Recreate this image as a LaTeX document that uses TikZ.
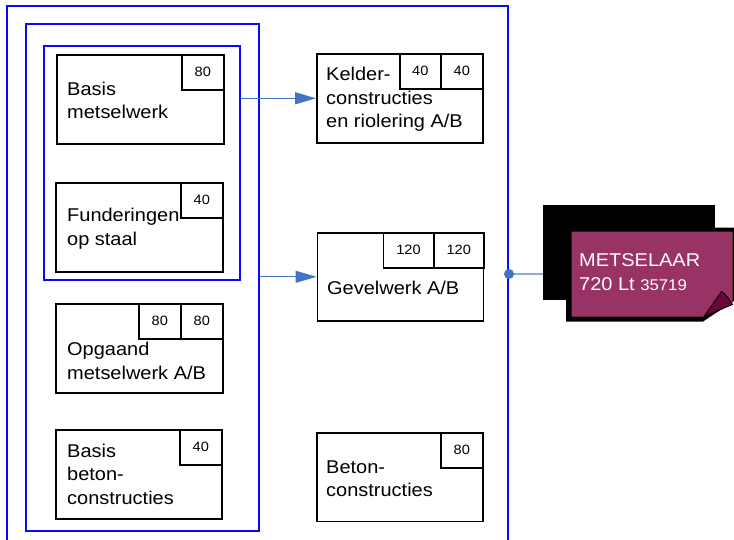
\documentclass[tikz,border=0pt]{standalone}
\usepackage{fontspec}
\setmainfont{Liberation Sans}[FakeStretch=1.08]
\usetikzlibrary{arrows.meta}
\definecolor{frameblue}{RGB}{10,10,250}
\definecolor{connblue}{RGB}{68,114,196}
\definecolor{lightconn}{RGB}{140,170,220}
\definecolor{cardfill}{RGB}{153,51,102}
\definecolor{foldfill}{RGB}{105,8,55}
\begin{document}
\begin{tikzpicture}[x=1pt,y=-1pt,
  frame/.style={draw=frameblue,line width=2pt,anchor=north west,inner sep=0pt},
  taskbox/.style={draw=black,line width=1.6pt,fill=white,anchor=north west,inner sep=0pt,minimum width=167pt,minimum height=89pt},
  numcell/.style={draw=black,line width=1.6pt,anchor=north west,inner sep=0pt,minimum height=35pt,font=\fontsize{13.5}{15}\selectfont},
  label/.style={anchor=west,align=left,inner sep=0pt,font=\fontsize{18.5}{23.5}\selectfont},
  conn/.style={draw=connblue,line width=1pt,-{Triangle[length=21pt,width=12pt]}}
]
\useasboundingbox (0,0) rectangle (734,539);
% frames
\node[frame,minimum width=501pt,minimum height=545pt] (outer) at (6,5) {};
\node[frame,minimum width=233pt,minimum height=507pt] (mid) at (25,22.5) {};
\node[frame,minimum width=196.5pt,minimum height=234.5pt] (inner) at (42.5,44.5) {};
% left column
\node[taskbox] (bm) at (56,54) {};
\node[numcell,minimum width=42pt] (bmn) at (181,54) {80};
\node[label] (bmt) at (67,100.5) {Basis\\metselwerk};

\node[taskbox] (fs) at (55,182) {};
\node[numcell,minimum width=42pt] (fsn) at (180,182) {40};
\node[label] (fst) at (67,228.5) {Funderingen\\op staal};

\node[taskbox] (om) at (55,303) {};
\node[numcell,minimum width=42pt] (omn1) at (138,303) {80};
\node[numcell,minimum width=42pt] (omn2) at (180,303) {80};
\node[label] (omt) at (67,361) {Opgaand\\metselwerk A/B};

\node[taskbox,minimum width=166pt] (bb) at (55,429) {};
\node[numcell,minimum width=42pt] (bbn) at (179,429) {40};
\node[label] (bbt) at (67,474) {Basis\\beton-\\constructies};
% right column
\node[taskbox,minimum width=166pt,minimum height=89pt] (kel) at (316,53) {};
\node[numcell,minimum width=41pt] (keln1) at (399,53) {40};
\node[numcell,minimum width=42pt] (keln2) at (440,53) {40};
\node[label] (kelt) at (326,99.5) {Kelder-\\constructies\\en riolering A/B};

\node[taskbox,minimum width=166pt,minimum height=88pt] (gev) at (316.5,232) {};
\node[numcell,minimum width=50.5pt] (gevn1) at (382.5,232) {120};
\node[numcell,minimum width=50pt] (gevn2) at (433,232) {120};
\node[label] (gevt) at (327,288) {Gevelwerk A/B};

\node[taskbox,minimum width=166pt,minimum height=88.5pt] (bet) at (316,432) {};
\node[numcell,minimum width=42pt] (betn) at (440,432) {80};
\node[label] (bett) at (326,478.5) {Beton-\\constructies};
% connectors
\draw[conn] (inner.east |- kel.west) -- (kel.west);
\draw[conn] (mid.east |- gev.west) -- (gev.west);
% resource card
\node[draw=none,fill=black,anchor=north west,inner sep=0pt,minimum width=172pt,minimum height=95pt] (back) at (543,205) {};
\coordinate (dot) at (outer.east |- 0,274);
\draw[draw=lightconn,line width=1.4pt] (dot) -- (back.west |- dot);
\fill[connblue] (dot) circle (5pt);
\fill[black] (566,227.5) -- (734,227.5) -- (734,301) -- (703,321.5) -- (566,321.5) -- cycle;
\fill[cardfill] (571.5,231.5) -- (732.5,231.5) -- (732.5,303) -- (704,316.5) -- (571.5,316.5) -- cycle;
\filldraw[fill=foldfill,draw=black,line width=0.8pt] (704,316.5) -- (721.5,291.5) .. controls (726,294) and (729,299) .. (732.5,304.5) -- cycle;
\node[label,text=white,font=\fontsize{18.5}{24}\selectfont] (cardt) at (579,272) {METSELAAR\\720 Lt {\fontsize{15.5}{24}\selectfont 35719}};
\end{tikzpicture}
\end{document}
